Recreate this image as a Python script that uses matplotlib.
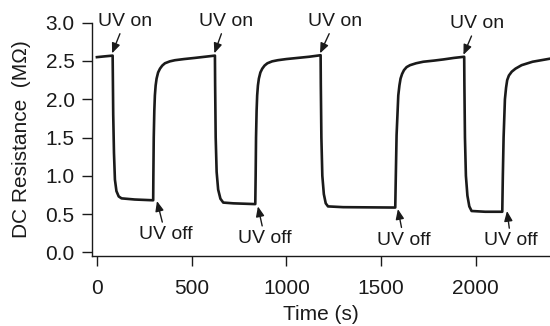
#!/usr/bin/env python3
# -*- coding: utf-8 -*-
"""
Resistencia DC bajo ciclos de UV on / UV off.
"""

import numpy as np
import matplotlib.pyplot as plt

plt.rc('font', family=['Liberation Sans', 'DejaVu Sans'], size=14)
plt.close('all')

# Datos (tiempo en s, resistencia en MOhm)
time_s = [0, 40, 83,
          86, 90, 95, 103, 115, 130, 200, 297,
          298, 300, 303, 306, 310, 315, 323, 333, 345, 359, 385, 412, 460, 517, 570, 623,
          624, 627, 632, 640, 652, 667, 720, 836,
          838, 840, 843, 846, 850, 855, 863, 873, 885, 900, 925, 955, 1000, 1060, 1120, 1181,
          1182, 1185, 1190, 1198, 1208, 1220, 1300, 1575,
          1578, 1582, 1591, 1597, 1603, 1611, 1621, 1635, 1653, 1685, 1723, 1780, 1829, 1885, 1939,
          1940, 1943, 1948, 1956, 1966, 1978, 2050, 2140,
          2143, 2147, 2154, 2160, 2166, 2175, 2190, 2210, 2242, 2300, 2392]
resistance = [2.55, 2.56, 2.57,
              1.80, 1.30, 0.95, 0.80, 0.73, 0.705, 0.69, 0.68,
              1.00, 1.50, 1.85, 2.05, 2.18, 2.27, 2.35, 2.40, 2.44, 2.47, 2.495, 2.51, 2.525, 2.54, 2.555, 2.57,
              2.20, 1.50, 1.05, 0.82, 0.70, 0.65, 0.64, 0.63,
              1.00, 1.50, 1.85, 2.05, 2.18, 2.27, 2.35, 2.40, 2.44, 2.47, 2.495, 2.51, 2.525, 2.54, 2.555, 2.575,
              2.20, 1.50, 1.00, 0.76, 0.64, 0.60, 0.59, 0.585,
              1.00, 1.53, 2.05, 2.18, 2.27, 2.33, 2.38, 2.42, 2.445, 2.47, 2.49, 2.505, 2.52, 2.54, 2.555,
              2.20, 1.50, 1.00, 0.74, 0.60, 0.54, 0.53, 0.53,
              1.00, 1.50, 2.00, 2.15, 2.25, 2.31, 2.36, 2.40, 2.445, 2.49, 2.53]

# Flechas: punta (t, R) y posicion del texto
uv_on_tip = [(80, 2.60), (620, 2.60), (1178, 2.60), (1935, 2.58)]
uv_on_text = [(148, 3.02), (681, 3.02), (1257, 3.02), (2006, 2.99)]
uv_off_tip = [(317, 0.67), (850, 0.60), (1589, 0.565), (2165, 0.54)]
uv_off_text = [(362, 0.23), (887, 0.18), (1621, 0.16), (2186, 0.15)]

ink = '#1a1a1a'

fig = plt.figure(figsize=(5.5, 3.26), dpi=100)
ax = fig.add_axes([92/550, 70/326, 458/550, 233.3/326])

ax.plot(time_s, resistance, color=ink, lw=1.9)

arrow = dict(arrowstyle='-|>,head_length=0.6,head_width=0.25', color=ink,
             lw=1.0, mutation_scale=10, shrinkA=1, shrinkB=0)
for tip, txt in zip(uv_on_tip, uv_on_text):
    ax.annotate('UV on', xy=tip, xytext=txt, ha='center', va='center',
                color=ink, arrowprops=arrow, annotation_clip=False)
for tip, txt in zip(uv_off_tip, uv_off_text):
    ax.annotate('UV off', xy=tip, xytext=txt, ha='center', va='center',
                color=ink, arrowprops=arrow, annotation_clip=False)

ax.set_xlim(-26, 2392)
ax.set_ylim(-0.048, 3.0)
ax.set_xticks([0, 500, 1000, 1500, 2000])
ax.set_yticks(np.arange(0, 3.01, 0.5))
ax.yaxis.set_major_formatter(plt.FormatStrFormatter('%.1f'))

for s in ['top', 'right']:
    ax.spines[s].set_visible(False)
for s in ['left', 'bottom']:
    ax.spines[s].set_linewidth(1.0)
    ax.spines[s].set_color(ink)
ax.tick_params(direction='out', length=7.5, width=1.0, colors=ink, labelsize=15)
ax.tick_params(axis='x', pad=9)
ax.tick_params(axis='y', pad=5)

ax.set_xlabel('Time (s)', color=ink, fontsize=15, labelpad=5)
ax.set_ylabel('DC Resistance  (M\u03a9)', color=ink, fontsize=15, labelpad=10)

plt.savefig('out.png', dpi=100)
